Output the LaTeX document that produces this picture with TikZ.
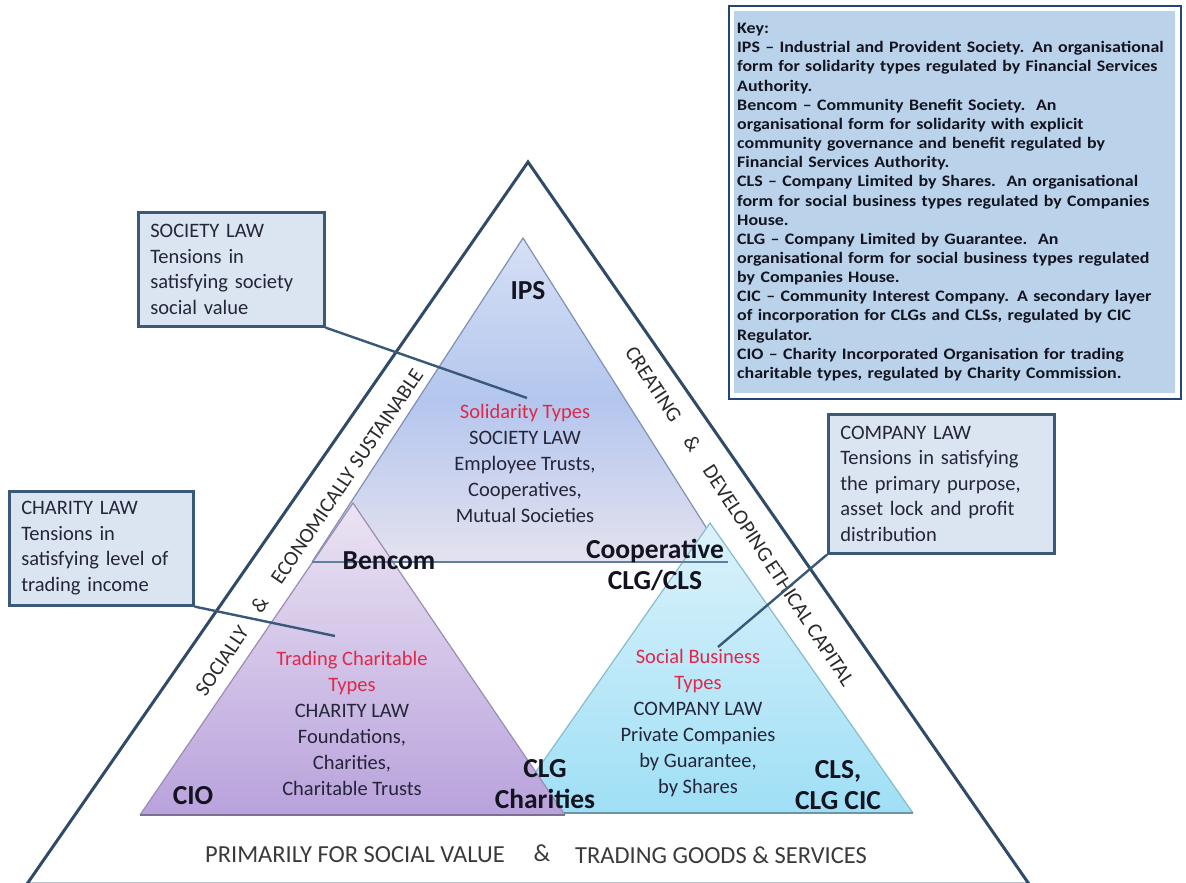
\documentclass[tikz,border=0pt]{standalone}
\usepackage{fontspec}
\setmainfont{Carlito}
\newfontfamily\keyfont[FakeStretch=1.12]{Carlito}
\definecolor{edgedark}{HTML}{2F4B68}
\definecolor{calloutedge}{HTML}{3A5878}
\definecolor{calloutfill}{HTML}{DBE5F1}
\definecolor{keyborder}{HTML}{23467A}
\definecolor{keyfill}{HTML}{BAD3EB}
\definecolor{bodytext}{HTML}{25253A}
\definecolor{typered}{HTML}{E0284A}
\definecolor{labeltext}{HTML}{141420}
\definecolor{bandtextc}{HTML}{2A2A2A}
\definecolor{foottext}{HTML}{3A3A3A}
\definecolor{soltop}{HTML}{D6E0F5}
\definecolor{solmid}{HTML}{B4C6EE}
\definecolor{solbot}{HTML}{E4E2EE}
\definecolor{soledge}{HTML}{8090B4}
\definecolor{chtop}{HTML}{EBE4F3}
\definecolor{chbot}{HTML}{B9A2DC}
\definecolor{chedge}{HTML}{9C8CB4}
\definecolor{cotop}{HTML}{DCF2FB}
\definecolor{cobot}{HTML}{9FDFF6}
\definecolor{coedge}{HTML}{86BCCC}
\definecolor{basecol}{HTML}{5F7F9F}
\begin{document}
\begin{tikzpicture}[x=1pt,y=-1pt,
  outerline/.style={draw=edgedark, line width=3pt, line join=miter},
  callout/.style={draw=calloutedge, line width=2.6pt, fill=calloutfill, text=bodytext,
    align=left, inner xsep=12pt, inner ysep=0pt, anchor=north west,
    font=\fontsize{20.5}{25.5}\selectfont},
  leader/.style={draw=calloutedge, line width=2.4pt},
  lawtext/.style={align=center, text=bodytext, font=\fontsize{20.5}{26}\selectfont, inner sep=0pt},
  formlabel/.style={align=center, text=labeltext, font=\bfseries\fontsize{27.5}{31.5}\selectfont, inner sep=0pt},
  bandtext/.style={text=bandtextc, font=\fontsize{21}{24}\selectfont, inner sep=0pt},
  foot/.style={text=foottext, font=\fontsize{24.5}{28}\selectfont, inner sep=0pt},
]
\useasboundingbox (0,0) rectangle (1186,883);

% outer triangle
\coordinate (oA) at (528,162);
\coordinate (oL) at (27,884);
\coordinate (oR) at (1029,884);
\draw[outerline] (oL) -- (oA) -- (oR) -- cycle;

% solidarity (society law) triangle
\coordinate (sA) at (523,238);
\coordinate (sL) at (312,562);
\coordinate (sR) at (728,562);
\shade[top color=soltop, bottom color=solbot, middle color=solmid] (sA) -- (sL) -- (sR) -- cycle;
\draw[soledge, line width=1.2pt] (sL) -- (sA) -- (sR);

% social business (company law) triangle
\coordinate (cA) at (710,523);
\coordinate (cL) at (507,813);
\coordinate (cR) at (913,813);
\shade[top color=cotop, bottom color=cobot] (cA) -- (cL) -- (cR) -- cycle;
\draw[coedge, line width=1.2pt] (cL) -- (cA) -- (cR);
\draw[coedge!80!black, line width=2pt] (cL) -- (cR);

% trading charitable (charity law) triangle
\coordinate (pA) at (353,503);
\coordinate (pL) at (140,815);
\coordinate (pR) at (565,815);
\shade[top color=chtop, bottom color=chbot] (pA) -- (pL) -- (pR) -- cycle;
\draw[chedge, line width=1.2pt] (pL) -- (pA) -- (pR);
\draw[chedge!80!black, line width=2pt] (pL) -- (pR);

% base of the solidarity triangle
\draw[basecol, line width=2.4pt] (sL) -- (sR);

% texts inside the triangles
\node[formlabel] (ips) at (528,291) {IPS};
\node[lawtext] (sol) at (525,463) {\textcolor{typered}{Solidarity Types}\\SOCIETY LAW\\Employee Trusts,\\Cooperatives,\\Mutual Societies};
\node[formlabel] (bencom) at (389,561) {Bencom};
\node[formlabel] (coop) at (655,565) {Cooperative\\CLG/CLS};
\node[lawtext] (chty) at (352,723) {\textcolor{typered}{Trading Charitable}\\\textcolor{typered}{Types}\\CHARITY LAW\\Foundations,\\Charities,\\Charitable Trusts};
\node[lawtext] (comp) at (698,723) {\textcolor{typered}{Social Business}\\\textcolor{typered}{Types}\\COMPANY LAW\\Private Companies\\by Guarantee,\\by Shares};
\node[formlabel] (cio) at (193,796) {CIO};
\node[formlabel] (clgch) at (545,784) {CLG\\Charities};
\node[formlabel] (clscic) at (838,785) {CLS,\\CLG CIC};

% side bands
\node[bandtext, rotate=55.9] (leftband) at (309,532) {SOCIALLY\quad\&\quad ECONOMICALLY SUSTAINABLE};
\node[bandtext, rotate=-56.8] (rightband) at (740,516) {CREATING\quad\&\quad DEVELOPING\,ETHICAL CAPITAL};

% bottom caption
\node[foot] (footl) at (355,855) {PRIMARILY FOR SOCIAL VALUE};
\node[foot] (footm) at (542,853) {\&};
\node[foot] (footr) at (721,855) {TRADING GOODS \& SERVICES};

% callouts
\node[callout, minimum width=186pt, minimum height=114pt, text width=162pt] (soc) at (137,211)
  {SOCIETY LAW\\Tensions in\\satisfying society\\social value};
\node[callout, minimum width=184pt, minimum height=114pt, text width=160pt] (cha) at (8,490)
  {CHARITY LAW\\Tensions in\\satisfying level of\\trading income};
\node[callout, minimum width=226pt, minimum height=139pt, text width=202pt] (cmp) at (827,413)
  {COMPANY LAW\\Tensions in satisfying\\the primary purpose,\\asset lock and profit\\distribution};
\coordinate (socpt) at (527,398);
\coordinate (chapt) at (335,636);
\coordinate (cmppt) at (718,647);
\draw[leader] (soc.south east) -- (socpt);
\draw[leader] (cha.south east) -- (chapt);
\draw[leader] (cmp.south west) -- (cmppt);

% key
\draw[keyborder, line width=2.4pt] (729,6) rectangle (1181,399);
\node[anchor=north west, fill=keyfill, minimum width=441pt, minimum height=382pt,
  inner xsep=3pt, inner ysep=5pt, text width=435pt, align=left, text=labeltext,
  font=\keyfont\bfseries\fontsize{16}{19.15}\selectfont] (key) at (734,11)
  {Key:\\
   IPS – Industrial and Provident Society. An organisational\\
   form for solidarity types regulated by Financial Services\\
   Authority.\\
   Bencom – Community Benefit Society.\ \ An\\
   organisational form for solidarity with explicit\\
   community governance and benefit regulated by\\
   Financial Services Authority.\\
   CLS – Company Limited by Shares.\ \ An organisational\\
   form for social business types regulated by Companies\\
   House.\\
   CLG – Company Limited by Guarantee.\ \ An\\
   organisational form for social business types regulated\\
   by Companies House.\\
   CIC – Community Interest Company. A secondary layer\\
   of incorporation for CLGs and CLSs, regulated by CIC\\
   Regulator.\\
   CIO – Charity Incorporated Organisation for trading\\
   charitable types, regulated by Charity Commission.};
\end{tikzpicture}
\end{document}
